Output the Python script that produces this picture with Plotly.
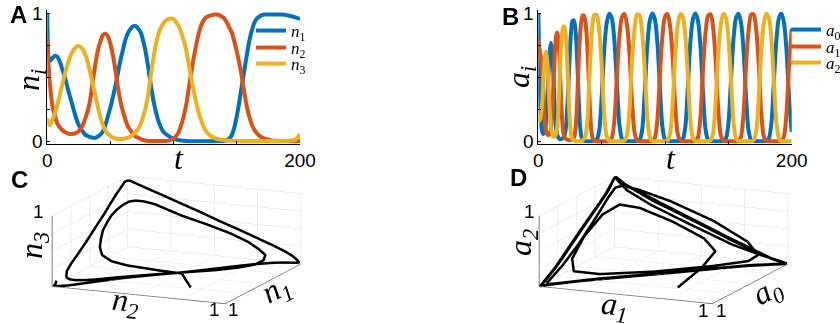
import plotly.graph_objects as go

# ---------------- Panel A data (time grid and n1, n2, n3) ----------------
T_A = [0, 1, 2, 4, 6, 8, 10, 12, 14, 16,
       18, 20, 22, 24, 26, 28, 30, 32, 34, 36,
       38, 40, 42, 44, 46, 48, 50, 52, 54, 56,
       58, 60, 62, 64, 66, 68, 70, 72, 74, 76,
       78, 80, 82, 84, 86, 88, 90, 92, 94, 96,
       98, 100, 102, 104, 106, 108, 110, 112, 114, 116,
       118, 120, 122, 124, 126, 128, 130, 132, 134, 136,
       138, 140, 142, 144, 146, 148, 150, 152, 154, 156,
       158, 160, 162, 164, 166, 168, 170, 172, 174, 176,
       178, 180, 182, 184, 186, 188, 190, 192, 194, 196,
       198, 200]

N1 = [1.0, 0.66, 0.63, 0.65, 0.67, 0.66, 0.62, 0.56, 0.5, 0.42,
      0.35, 0.28, 0.21, 0.15, 0.11, 0.08, 0.055, 0.044, 0.035, 0.03,
      0.03, 0.04, 0.055, 0.08, 0.13, 0.2, 0.27, 0.35, 0.44, 0.54,
      0.64, 0.72, 0.8, 0.85, 0.88, 0.9, 0.9, 0.88, 0.85, 0.78,
      0.69, 0.57, 0.44, 0.32, 0.23, 0.16, 0.11, 0.075, 0.058, 0.045,
      0.032, 0.022, 0.016, 0.012, 0.009, 0.007, 0.005, 0.004, 0.004, 0.004,
      0.004, 0.004, 0.004, 0.004, 0.004, 0.004, 0.004, 0.004, 0.004, 0.004,
      0.005, 0.007, 0.012, 0.025, 0.05, 0.11, 0.2, 0.31, 0.44, 0.56,
      0.68, 0.79, 0.87, 0.93, 0.96, 0.975, 0.985, 0.99, 0.99, 0.99,
      0.99, 0.99, 0.99, 0.99, 0.99, 0.988, 0.985, 0.98, 0.975, 0.97,
      0.962, 0.955]

N2 = [0.8, 0.6, 0.46, 0.28, 0.2, 0.14, 0.11, 0.09, 0.075, 0.065,
      0.06, 0.06, 0.065, 0.075, 0.095, 0.13, 0.18, 0.24, 0.33, 0.47,
      0.6, 0.71, 0.78, 0.83, 0.84, 0.82, 0.76, 0.67, 0.55, 0.42,
      0.31, 0.23, 0.165, 0.115, 0.085, 0.06, 0.04, 0.03, 0.02, 0.013,
      0.009, 0.006, 0.005, 0.005, 0.005, 0.005, 0.005, 0.005, 0.005, 0.008,
      0.015, 0.025, 0.045, 0.075, 0.13, 0.2, 0.29, 0.42, 0.54, 0.66,
      0.76, 0.85, 0.91, 0.95, 0.97, 0.98, 0.985, 0.99, 0.99, 0.985,
      0.975, 0.96, 0.93, 0.89, 0.85, 0.78, 0.7, 0.61, 0.5, 0.38,
      0.27, 0.19, 0.13, 0.09, 0.065, 0.045, 0.032, 0.023, 0.017, 0.013,
      0.01, 0.008, 0.007, 0.006, 0.006, 0.005, 0.005, 0.005, 0.005, 0.005,
      0.005, 0.005]

N3 = [0.18, 0.14, 0.13, 0.17, 0.22, 0.29, 0.37, 0.45, 0.53, 0.6,
      0.66, 0.7, 0.73, 0.745, 0.74, 0.72, 0.68, 0.62, 0.54, 0.45,
      0.36, 0.27, 0.19, 0.13, 0.085, 0.06, 0.045, 0.032, 0.025, 0.02,
      0.02, 0.022, 0.026, 0.032, 0.042, 0.057, 0.078, 0.1, 0.14, 0.2,
      0.27, 0.38, 0.52, 0.65, 0.76, 0.84, 0.89, 0.925, 0.945, 0.957,
      0.96, 0.955, 0.93, 0.9, 0.85, 0.79, 0.71, 0.6, 0.49, 0.39,
      0.3, 0.22, 0.16, 0.11, 0.075, 0.055, 0.04, 0.03, 0.023, 0.018,
      0.015, 0.012, 0.01, 0.008, 0.007, 0.006, 0.006, 0.005, 0.005, 0.005,
      0.005, 0.005, 0.005, 0.005, 0.005, 0.005, 0.005, 0.005, 0.005, 0.005,
      0.005, 0.005, 0.005, 0.005, 0.005, 0.005, 0.005, 0.007, 0.01, 0.016,
      0.03, 0.058]

# ---------------- Panel B data (time grid and a0, a1, a2) ----------------
T_B = [0, 1, 2, 3, 4, 5, 6, 7, 8, 9,
       10, 11, 12, 13, 14, 15, 16, 17, 18, 19,
       20, 21, 22, 23, 24, 25, 26, 27, 28, 29,
       30, 31, 32, 33, 34, 35, 36, 37, 38, 39,
       40, 41, 42, 43, 44,
       46, 48, 50, 52, 54, 56, 58, 60, 62, 64,
       66, 68, 70, 72, 74, 76, 78, 80, 82, 84,
       86, 88, 90, 92, 94, 96, 98, 100, 102, 104,
       106, 108, 110, 112, 114, 116, 118, 120, 122, 124,
       126, 128, 130, 132, 134, 136, 138, 140, 142, 144,
       146, 148, 150, 152, 154, 156, 158, 160, 162, 164,
       166, 168, 170, 172, 174, 176, 178, 180, 182, 184,
       186, 188, 190, 192, 194, 196, 198, 200]

A0 = [1.0, 0.5, 0.18, 0.08, 0.06, 0.08, 0.14, 0.3, 0.52, 0.7,
      0.77, 0.7, 0.5, 0.26, 0.11, 0.05, 0.03, 0.02, 0.02, 0.025,
      0.035, 0.06, 0.13, 0.28, 0.5, 0.72, 0.87, 0.94, 0.945, 0.9,
      0.78, 0.56, 0.3, 0.12, 0.04, 0.015, 0.007, 0.005, 0.004, 0.004,
      0.004, 0.004, 0.004, 0.004, 0.005,
      0.013, 0.082, 0.346, 0.712, 0.926, 0.997, 0.962, 0.793, 0.46, 0.136,
      0.023, 0.005, 0.004, 0.004, 0.004, 0.004, 0.004, 0.014, 0.094, 0.382,
      0.744, 0.942, 0.999, 0.954, 0.771, 0.42, 0.112, 0.018, 0.004, 0.004,
      0.004, 0.004, 0.004, 0.004, 0.018, 0.112, 0.42, 0.771, 0.954, 0.999,
      0.942, 0.744, 0.382, 0.094, 0.014, 0.004, 0.004, 0.004, 0.004, 0.004,
      0.005, 0.023, 0.136, 0.46, 0.793, 0.962, 0.997, 0.926, 0.712, 0.346,
      0.082, 0.013, 0.004, 0.004, 0.004, 0.004, 0.004, 0.005, 0.025, 0.148,
      0.48, 0.804, 0.966, 0.996, 0.918, 0.696, 0.328, 0.076]

A1 = [0.8, 0.72, 0.66, 0.55, 0.36, 0.18, 0.09, 0.06, 0.05, 0.06,
      0.1, 0.22, 0.45, 0.68, 0.82, 0.85, 0.78, 0.58, 0.33, 0.15,
      0.06, 0.03, 0.02, 0.015, 0.012, 0.012, 0.014, 0.02, 0.03, 0.07,
      0.18, 0.4, 0.65, 0.84, 0.94, 0.983, 0.983, 0.945, 0.85, 0.68,
      0.445, 0.21, 0.074, 0.026, 0.008,
      0.004, 0.004, 0.004, 0.004, 0.004, 0.005, 0.028, 0.16, 0.5, 0.815,
      0.97, 0.995, 0.91, 0.68, 0.31, 0.07, 0.011, 0.004, 0.004, 0.004,
      0.004, 0.004, 0.006, 0.03, 0.172, 0.52, 0.826, 0.974, 0.994, 0.902,
      0.664, 0.292, 0.064, 0.01, 0.004, 0.004, 0.004, 0.004, 0.004, 0.006,
      0.035, 0.196, 0.56, 0.848, 0.982, 0.992, 0.886, 0.632, 0.256, 0.052,
      0.009, 0.004, 0.004, 0.004, 0.004, 0.004, 0.007, 0.04, 0.22, 0.6,
      0.87, 0.99, 0.99, 0.87, 0.6, 0.22, 0.04, 0.007, 0.004, 0.004,
      0.004, 0.004, 0.004, 0.008, 0.046, 0.238, 0.616, 0.878]

A2 = [0.18, 0.16, 0.2, 0.3, 0.48, 0.64, 0.7, 0.64, 0.45, 0.24,
      0.11, 0.06, 0.04, 0.04, 0.06, 0.12, 0.28, 0.52, 0.74, 0.86,
      0.9, 0.88, 0.78, 0.58, 0.33, 0.14, 0.05, 0.02, 0.01, 0.007,
      0.005, 0.005, 0.005, 0.006, 0.008, 0.012, 0.02, 0.04, 0.09, 0.2,
      0.42, 0.65, 0.82, 0.93, 0.985,
      0.99, 0.87, 0.6, 0.22, 0.04, 0.007, 0.004, 0.004, 0.004, 0.004,
      0.004, 0.009, 0.052, 0.256, 0.632, 0.886, 0.992, 0.982, 0.848, 0.56,
      0.196, 0.035, 0.006, 0.004, 0.004, 0.004, 0.004, 0.004, 0.01, 0.064,
      0.292, 0.664, 0.902, 0.994, 0.974, 0.826, 0.52, 0.172, 0.03, 0.006,
      0.004, 0.004, 0.004, 0.004, 0.004, 0.011, 0.07, 0.31, 0.68, 0.91,
      0.995, 0.97, 0.815, 0.5, 0.16, 0.028, 0.005, 0.004, 0.004, 0.004,
      0.004, 0.004, 0.013, 0.082, 0.346, 0.712, 0.926, 0.997, 0.962, 0.793,
      0.46, 0.136, 0.023, 0.005, 0.004, 0.004, 0.004, 0.004]

assert len(T_A) == len(N1) == len(N2) == len(N3)
assert len(T_B) == len(A0) == len(A1) == len(A2)

T_TICKS = [0, 50, 100, 150, 200]
T_LABELS = ['0', '', '', '', '200']
V_TICKS = [0, 0.25, 0.5, 0.75, 1]
V_LABELS = ['0', '', '', '', '1']

NAMES_A = ['<i>n</i><sub>1</sub>', '<i>n</i><sub>2</sub>', '<i>n</i><sub>3</sub>']
NAMES_B = ['<i>a</i><sub>0</sub>', '<i>a</i><sub>1</sub>', '<i>a</i><sub>2</sub>']
COLORS = ['#0072BD', '#D95319', '#EDB120']

W, H = 840, 324
SANS = 'Liberation Sans, Arial, sans-serif'
SERIF = 'Liberation Serif, DejaVu Serif, serif'


def px(x):
    return x / W


def py(y):
    return 1 - y / H


fig = go.Figure()

LEG_A = ['legend', 'legend2', 'legend3']
LEG_B = ['legend4', 'legend5', 'legend6']
for vals, name, col, lg in zip([N1, N2, N3], NAMES_A, COLORS, LEG_A):
    fig.add_trace(go.Scatter(x=T_A, y=vals, mode='lines', name=name,
                             line=dict(color=col, width=4, shape='spline', smoothing=0.8),
                             xaxis='x', yaxis='y', legend=lg))
for vals, name, col, lg in zip([A0, A1, A2], NAMES_B, COLORS, LEG_B):
    fig.add_trace(go.Scatter(x=T_B, y=vals, mode='lines', name=name,
                             line=dict(color=col, width=4, shape='spline', smoothing=0.8),
                             xaxis='x2', yaxis='y2', legend=lg))

fig.add_trace(go.Scatter3d(x=N1, y=N2, z=N3, mode='lines', showlegend=False,
                           line=dict(color='black', width=5), scene='scene'))
fig.add_trace(go.Scatter3d(x=A0, y=A1, z=A2, mode='lines', showlegend=False,
                           line=dict(color='black', width=5), scene='scene2'))

# 2D axes
ydom = [py(143.6), py(10.1)]
common_x = dict(range=[0, 200], tickvals=T_TICKS, ticktext=T_LABELS, ticks='inside', ticklen=3,
                tickcolor='black', showline=True, linecolor='black', linewidth=1,
                showgrid=False, zeroline=False,
                tickfont=dict(family=SANS, size=19, color='black'))
common_y = dict(range=[-0.015, 1.025], tickvals=V_TICKS, ticktext=V_LABELS, ticks='inside', ticklen=3,
                tickcolor='black', showline=True, linecolor='black', linewidth=1,
                showgrid=False, zeroline=False,
                tickfont=dict(family=SANS, size=19, color='black'))

fig.update_layout(
    xaxis=dict(domain=[px(47.3), px(300)], anchor='y', **common_x),
    yaxis=dict(domain=ydom, anchor='x', **common_y),
    xaxis2=dict(domain=[px(538.3), px(791.7)], anchor='y2', **common_x),
    yaxis2=dict(domain=ydom, anchor='x2', **common_y),
)


def axis3d():
    return dict(range=[0, 1], tickvals=V_TICKS, showticklabels=False,
                showbackground=False, gridcolor='#dcdcdc', gridwidth=1,
                showline=True, linecolor='#555555', linewidth=1.5,
                zeroline=False, showspikes=False, ticks='',
                title=dict(text=''))


S = 2.25
r = 3.0
eye = dict(x=0.892 * r, y=0.389 * r, z=0.229 * r)
cam = dict(eye=eye, up=dict(x=0, y=0, z=1), center=dict(x=0, y=0, z=0),
           projection=dict(type='orthographic'))
aspect = dict(x=S, y=S, z=0.383 * S)

fig.update_layout(
    scene=dict(domain=dict(x=[0.0, 0.42], y=[0.0, 0.52]),
               aspectmode='manual', aspectratio=aspect,
               camera=cam, xaxis=axis3d(), yaxis=axis3d(), zaxis=axis3d()),
    scene2=dict(domain=dict(x=[0.58, 1.0], y=[0.0, 0.52]),
                aspectmode='manual', aspectratio=aspect,
                camera=cam, xaxis=axis3d(), yaxis=axis3d(), zaxis=axis3d()),
)

leg = dict(xanchor='left', yanchor='top', bgcolor='rgba(0,0,0,0)', borderwidth=0,
           font=dict(family=SERIF, size=17, color='black'), itemwidth=30)
legend_layout = {}
for lg, top in zip(LEG_A, [13, 30, 46]):
    legend_layout[lg] = dict(x=px(251), y=py(top), **leg)
for lg, top in zip(LEG_B, [12, 29, 45]):
    legend_layout[lg] = dict(x=px(786), y=py(top), **leg)
fig.update_layout(**legend_layout)

ann = []
# panel letters
for txt, x, y in [('A', 18, 15), ('B', 511, 16), ('C', 19, 179), ('D', 518, 177)]:
    ann.append(dict(text='<b>%s</b>' % txt, x=px(x), y=py(y), xref='paper', yref='paper',
                    showarrow=False, xanchor='center', yanchor='middle',
                    font=dict(family=SANS, size=24, color='black')))
# axis titles
for txt, x, y, ang in [('<i>n<sub>i</sub></i>', 30, 80, -90), ('<i>t</i>', 179, 158, 0),
                       ('<i>a<sub>i</sub></i>', 521, 77, -90), ('<i>t</i>', 671, 158, 0),
                       ('<i>n<sub>3</sub></i>', 33, 246, -90), ('<i>n<sub>2</sub></i>', 125, 302, 6),
                       ('<i>n<sub>1</sub></i>', 276, 290, -28),
                       ('<i>a<sub>2</sub></i>', 522, 243, -90), ('<i>a<sub>1</sub></i>', 614, 306, 6),
                       ('<i>a<sub>0</sub></i>', 767, 292, -28)]:
    ann.append(dict(text=txt, x=px(x), y=py(y), xref='paper', yref='paper', showarrow=False,
                    xanchor='center', yanchor='middle', textangle=ang,
                    font=dict(family=SERIF, size=32, color='black')))
# 3D tick labels ("1" at the end of each axis)
for x, y in [(38, 211), (215, 309), (233, 309), (529, 211), (703, 310), (721, 310)]:
    ann.append(dict(text='1', x=px(x), y=py(y), xref='paper', yref='paper', showarrow=False,
                    xanchor='center', yanchor='middle',
                    font=dict(family=SANS, size=19, color='black')))

fig.update_layout(width=W, height=H, margin=dict(l=0, r=0, t=0, b=0, autoexpand=False),
                  paper_bgcolor='white', plot_bgcolor='white', annotations=ann,
                  showlegend=True)

fig.write_html('out.html', config={'displayModeBar': False})
